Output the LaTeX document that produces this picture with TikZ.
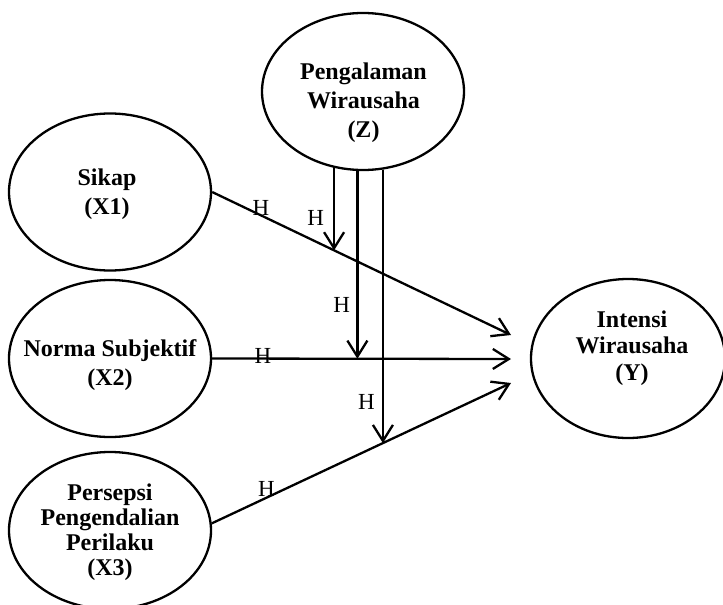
\documentclass[tikz,border=0pt]{standalone}
\usepackage{fontspec}
\setmainfont{Liberation Serif}
\usetikzlibrary{shapes.geometric,arrows.meta}
\begin{document}
\begin{tikzpicture}[x=1pt,y=-1pt,
  var/.style={draw,ellipse,line width=2.3pt,inner sep=0pt,minimum width=202pt,minimum height=157pt},
  txt/.style={align=center,font=\fontsize{24}{#1}\selectfont\bfseries},txt/.default=29,
  hyp/.style={inner sep=0pt,outer sep=0pt,font=\fontsize{23}{23}\selectfont},
  arr/.style={line width=2.3pt,-{Straight Barb[length=16pt,width=20pt]}}]
\useasboundingbox (0,0) rectangle (723,605);
\node[var] (z) at (363,91.5) {};
\node[var] (x1) at (110,192) {};
\node[var] (x2) at (110,358.5) {};
\node[var] (x3) at (110,530.5) {};
\node[var,minimum width=194pt,minimum height=159pt] (y) at (628,358.5) {};
\node[txt] (zt) at (363.5,102.5) {Pengalaman\\Wirausaha\\(Z)};
\node[txt] (x1t) at (107,194.5) {Sikap\\(X1)};
\node[txt] (x2t) at (110,365) {Norma Subjektif\\(X2)};
\node[txt=25] (x3t) at (110,532.5) {Persepsi\\Pengendalian\\Perilaku\\(X3)};
\node[txt=26.5] (yt) at (632,348) {Intensi\\Wirausaha\\(Y)};
\coordinate (t1) at (511,335);
\coordinate (t2) at (511,359);
\coordinate (t3) at (511,383);
\draw[arr] (x1.east) -- node[hyp,pos=0.163,above] (h1) {H} coordinate[pos=0.408] (m1) (t1);
\draw[arr] (x2.east) -- node[hyp,pos=0.17,yshift=2.6pt] (h4) {H} coordinate[pos=0.486] (m2) (t2);
\draw[arr] (x3.4) -- node[hyp,pos=0.183,above=1.5pt] (h6) {H} coordinate[pos=0.572] (m3) (t3);
\draw[arr] (m1 |- z.-112) -- node[hyp,pos=0.615,left=10pt] (h2) {H} (m1);
\draw[arr] (m2 |- z.-95) -- node[hyp,pos=0.716,left=7.3pt] (h3) {H} (m2);
\draw[arr] (m3 |- z.-76) -- node[hyp,pos=0.85,left=8.3pt] (h5) {H} (m3);
\end{tikzpicture}
\end{document}
